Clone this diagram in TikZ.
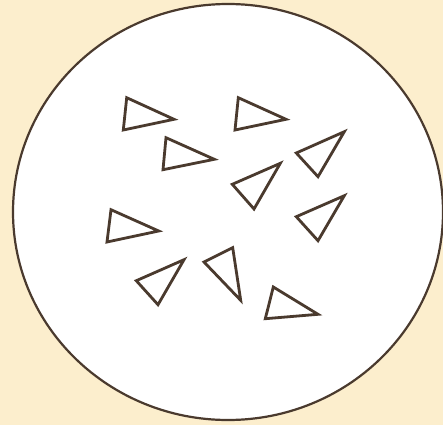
\documentclass[tikz,border=0pt]{standalone}
\usepackage{xcolor}
\usetikzlibrary{positioning}

\definecolor{paper}{HTML}{FCEECD}
\definecolor{ink}{HTML}{4A3A2E}

\begin{document}
\begin{tikzpicture}[
    x=1pt, y=-1pt,
    dish/.style={draw=ink, fill=white, line width=2.2pt},
    tri/.style={draw=ink, line width=2.8pt, line join=miter}
]

% Background
\fill[paper] (0,0) rectangle (443,425);
\useasboundingbox (0,0) rectangle (443,425);

% Dish
\draw[dish] (228,212) ellipse (215 and 208);

% Triangles - top row
\draw[tri] (126.7,97.7) -- (174,119.3) -- (123.3,130) -- cycle;
\draw[tri] (238.3,97.7) -- (286,119.3) -- (235,130) -- cycle;
\draw[tri] (166,137.7) -- (214.3,159.3) -- (163,169.7) -- cycle;

% Triangles - middle
\draw[tri] (296.3,153) -- (344.3,131.7) -- (318,176.7) -- cycle;
\draw[tri] (232.3,184.3) -- (280.3,163.3) -- (254,209) -- cycle;
\draw[tri] (296.3,216.7) -- (344.3,195.7) -- (318,240.7) -- cycle;
\draw[tri] (111,209.7) -- (158.7,231) -- (107,242) -- cycle;

% Triangles - bottom row
\draw[tri] (136.3,280.7) -- (184,259.7) -- (158,304.7) -- cycle;
\draw[tri] (204,262) -- (232.7,247.7) -- (240.7,300.3) -- cycle;
\draw[tri] (273.3,287) -- (318,314.3) -- (265.3,318.7) -- cycle;

\end{tikzpicture}
\end{document}
